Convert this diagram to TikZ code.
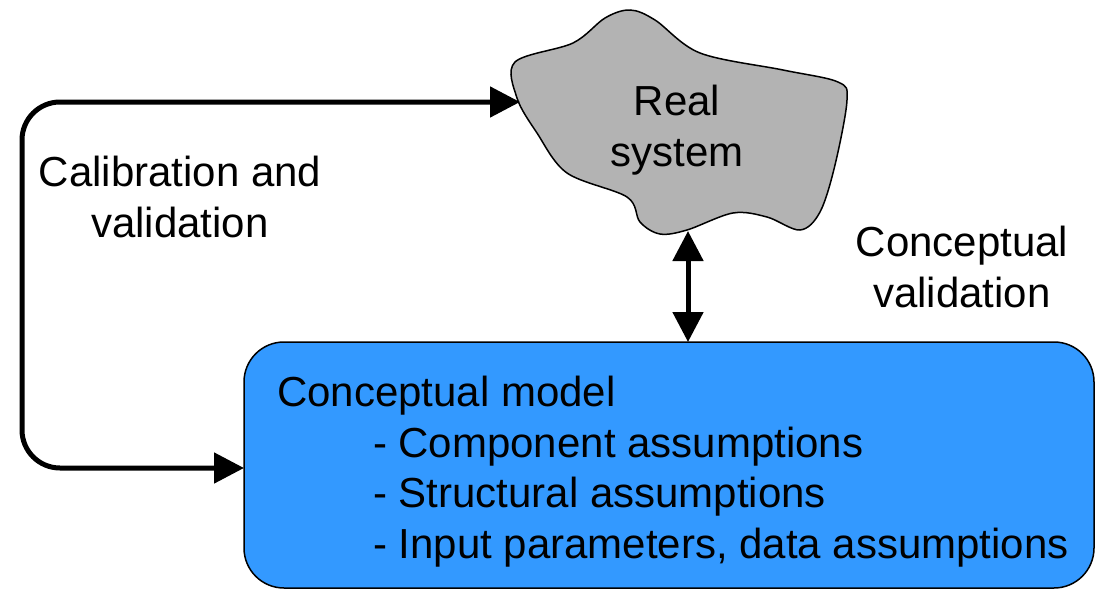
\documentclass[tikz,border=0pt]{standalone}
\usepackage{fontspec}
\setmainfont{Liberation Sans}
\usetikzlibrary{arrows.meta}
\definecolor{boxblue}{HTML}{3399FF}
\definecolor{cloudgray}{HTML}{B3B3B3}
\begin{document}
\begin{tikzpicture}[x=1pt,y=-1pt,
  txt/.style={font=\fontsize{42}{50.5}\selectfont, inner sep=0pt, outer sep=0pt},
  conn/.style={line width=5pt, {Triangle[length=30pt,width=30pt]}-{Triangle[length=30pt,width=30pt]}},
  modelbox/.style={draw, line width=1.5pt, fill=boxblue, rounded corners=40pt, minimum width=850pt, minimum height=246pt, inner sep=0pt, outer sep=0pt}]
\useasboundingbox (0,0) rectangle (1095,589);
% conceptual model box
\node[modelbox] (model) at (669,465) {};
\node[txt, anchor=base west, align=left] (modeltext) at (277,558)
  {Conceptual model\\
   \hspace*{96pt}- Component assumptions\\
   \hspace*{96pt}- Structural assumptions\\
   \hspace*{96pt}- Input parameters, data assumptions};
% cloud
\draw[line width=1.5pt, fill=cloudgray] plot[smooth cycle, tension=0.55] coordinates {
  (515,62) (573,43) (605,18) (630,10) (655,20) (700,53) (783,70) (838,82)
  (847,100) (835,165) (820,212) (800,230) (767,217) (733,213) (687,230)
  (660,234) (640,222) (627,197) (567,173) (537,133) (517,98)};
\node[txt, anchor=base, align=center] (real) at (677,166) {Real\\system};
% labels
\node[txt, anchor=base, align=center] (calib) at (180,237) {Calibration and\\validation};
\node[txt, anchor=base, align=center] (concval) at (962,307) {Conceptual\\validation};
% connectors
\coordinate (cloudbot) at (688,231);
\coordinate (cloudleft) at (520,102);
\coordinate (modeltop) at (cloudbot |- model.north);
\coordinate (modelleft) at (model.west |- 0,468);
\draw[conn] (cloudbot) -- (modeltop);
\draw[conn, rounded corners=38pt] (cloudleft) -- (22,102) -- (22,468) -- (modelleft);
\end{tikzpicture}
\end{document}
